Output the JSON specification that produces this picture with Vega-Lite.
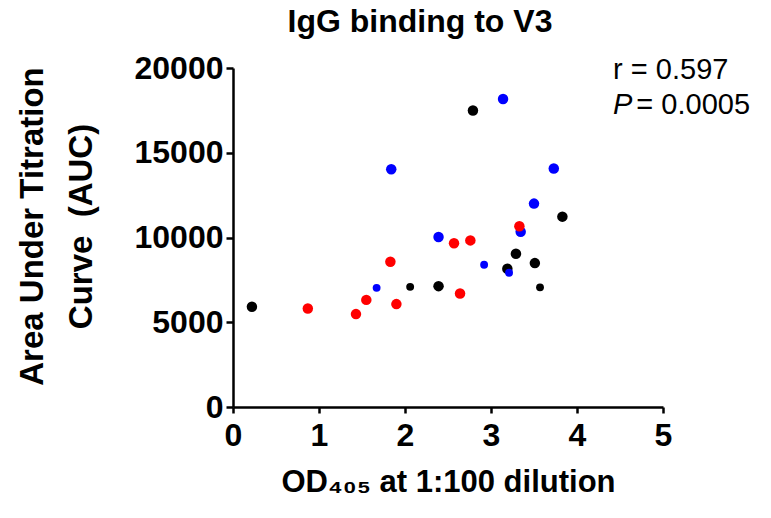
{
  "$schema": "https://vega.github.io/schema/vega-lite/v6.json",
  "width": 430,
  "height": 339,
  "autosize": {"type": "none"},
  "padding": {"left": 233, "top": 68, "right": 108, "bottom": 111},
  "background": "white",
  "config": {
    "view": {"stroke": null},
    "font": "Liberation Sans"
  },
  "title": {
    "text": "IgG binding to V3",
    "font": "Liberation Sans",
    "fontSize": 32,
    "fontWeight": "bold",
    "color": "black",
    "anchor": "middle",
    "frame": "group",
    "dx": -28,
    "offset": 13
  },
  "datasets": {
    "points": [
      {"od": 0.22, "auc": 5910, "group": "A", "marker": "large"},
      {"od": 2.06, "auc": 7090, "group": "A", "marker": "small"},
      {"od": 2.39, "auc": 7130, "group": "A", "marker": "large"},
      {"od": 2.79, "auc": 17490, "group": "A", "marker": "large"},
      {"od": 3.29, "auc": 9040, "group": "A", "marker": "large"},
      {"od": 3.19, "auc": 8160, "group": "A", "marker": "large"},
      {"od": 3.51, "auc": 8490, "group": "A", "marker": "large"},
      {"od": 3.57, "auc": 7060, "group": "A", "marker": "small"},
      {"od": 3.83, "auc": 11230, "group": "A", "marker": "large"},
      {"od": 3.14, "auc": 18170, "group": "B", "marker": "large"},
      {"od": 1.84, "auc": 14030, "group": "B", "marker": "large"},
      {"od": 3.73, "auc": 14070, "group": "B", "marker": "large"},
      {"od": 3.50, "auc": 12000, "group": "B", "marker": "large"},
      {"od": 3.345, "auc": 10340, "group": "B", "marker": "large"},
      {"od": 2.39, "auc": 10030, "group": "B", "marker": "large"},
      {"od": 2.92, "auc": 8390, "group": "B", "marker": "small"},
      {"od": 3.21, "auc": 7920, "group": "B", "marker": "small"},
      {"od": 1.67, "auc": 7030, "group": "B", "marker": "small"},
      {"od": 0.87, "auc": 5815, "group": "C", "marker": "large"},
      {"od": 1.43, "auc": 5480, "group": "C", "marker": "large"},
      {"od": 1.55, "auc": 6320, "group": "C", "marker": "large"},
      {"od": 1.83, "auc": 8570, "group": "C", "marker": "large"},
      {"od": 1.90, "auc": 6070, "group": "C", "marker": "large"},
      {"od": 2.57, "auc": 9660, "group": "C", "marker": "large"},
      {"od": 2.76, "auc": 9830, "group": "C", "marker": "large"},
      {"od": 2.64, "auc": 6700, "group": "C", "marker": "large"},
      {"od": 3.33, "auc": 10660, "group": "C", "marker": "large"}
    ],
    "one": [{}]
  },
  "layer": [
    {
      "data": {"name": "points"},
      "mark": {"type": "circle", "opacity": 1},
      "encoding": {
        "x": {
          "field": "od",
          "type": "quantitative",
          "scale": {"domain": [0, 5], "nice": false, "zero": true},
          "axis": {
            "title": "OD₄₀₅ at 1:100 dilution",
            "titleFont": "Liberation Sans",
            "titleFontSize": 31,
            "titleFontWeight": "bold",
            "titleColor": "black",
            "titlePadding": 16,
            "values": [0, 1, 2, 3, 4, 5],
            "format": "d",
            "labelFont": "Liberation Sans",
            "labelFontSize": 32,
            "labelFontWeight": "bold",
            "labelColor": "black",
            "labelPadding": 7,
            "labelFlush": false,
            "labelOverlap": false,
            "grid": false,
            "domainColor": "black",
            "domainWidth": 2.5,
            "tickColor": "black",
            "tickWidth": 2.5,
            "tickSize": 6
          }
        },
        "y": {
          "field": "auc",
          "type": "quantitative",
          "scale": {"domain": [0, 20000], "nice": false},
          "axis": {
            "title": ["Area Under Titration", "Curve\u00a0\u00a0(AUC)"],
            "titleFont": "Liberation Sans",
            "titleFontSize": 33,
            "titleFontWeight": "bold",
            "titleColor": "black",
            "titleLineHeight": 49,
            "titleX": -201,
            "titleY": 158,
            "titleBaseline": "middle",
            "titleAngle": -90,
            "values": [0, 5000, 10000, 15000, 20000],
            "format": "d",
            "labelFont": "Liberation Sans",
            "labelFontSize": 32,
            "labelFontWeight": "bold",
            "labelColor": "black",
            "labelPadding": 3,
            "labelFlush": false,
            "labelOverlap": false,
            "grid": false,
            "domainColor": "black",
            "domainWidth": 2.5,
            "tickColor": "black",
            "tickWidth": 2.5,
            "tickSize": 7
          }
        },
        "color": {
          "field": "group",
          "type": "nominal",
          "scale": {"domain": ["A", "B", "C"], "range": ["#000000", "#0000FF", "#FF0000"]},
          "legend": null
        },
        "size": {
          "field": "marker",
          "type": "nominal",
          "scale": {"domain": ["large", "small"], "range": [110, 62]},
          "legend": null
        }
      }
    },
    {
      "data": {"name": "one"},
      "mark": {"type": "text", "text": "r = 0.597", "align": "left", "baseline": "middle", "font": "Liberation Sans", "fontSize": 29, "color": "black"},
      "encoding": {"x": {"datum": 4.42}, "y": {"datum": 19900}}
    },
    {
      "data": {"name": "one"},
      "mark": {"type": "text", "text": "P", "align": "left", "baseline": "middle", "font": "Liberation Sans", "fontSize": 29, "fontStyle": "italic", "color": "black"},
      "encoding": {"x": {"datum": 4.42}, "y": {"datum": 17800}}
    },
    {
      "data": {"name": "one"},
      "mark": {"type": "text", "text": "= 0.0005", "align": "left", "baseline": "middle", "font": "Liberation Sans", "fontSize": 29, "color": "black"},
      "encoding": {"x": {"datum": 4.69}, "y": {"datum": 17800}}
    }
  ]
}
